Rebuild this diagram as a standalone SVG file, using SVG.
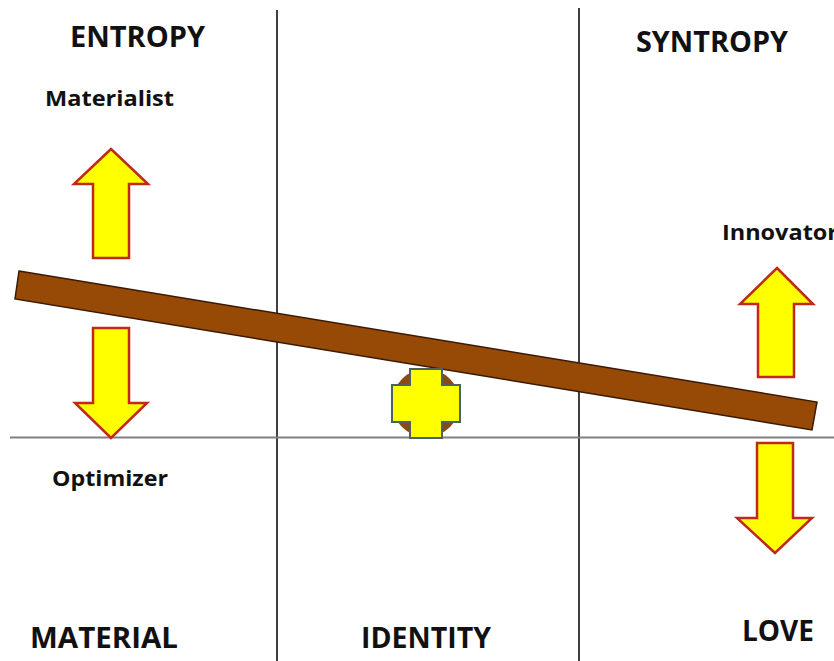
<svg xmlns="http://www.w3.org/2000/svg" width="834" height="661" viewBox="0 0 834 661">
<style>
.t{font-family:"Open Sans","Liberation Sans",sans-serif;font-weight:bold;fill:#111}
.h{font-size:29px}
.s{font-size:22px}
.arrow{fill:#ffff00;stroke:#c0281a;stroke-width:2.5;stroke-linejoin:miter}
.vl{stroke:#111;stroke-width:1.6}
</style>
<rect width="834" height="661" fill="#fff"/>
<g id="grid">
<line class="vl" x1="277" y1="10" x2="277" y2="661"/>
<line class="vl" x1="579" y1="8" x2="579" y2="661"/>
<line x1="10" y1="437.5" x2="834" y2="437.5" stroke="#808080" stroke-width="2"/>
</g>
<g id="beam">
<polygon points="19,271 817,402 812,430 15,299" fill="#974a06" stroke="#3a1a05" stroke-width="1.5"/>
</g>
<g id="fulcrum">
<circle cx="426" cy="403" r="34" fill="#8a4a14"/>
<path d="M410,369 H442 V385 H460 V422 H442 V438 H410 V422 H392 V385 H410 Z" fill="#ffff00" stroke="#4d6161" stroke-width="2"/>
</g>
<g id="arrow-materialist-up">
<polygon class="arrow" points="111,149 148,184 129,184 129,258 93,258 93,184 74,184"/>
</g>
<g id="arrow-optimizer-down">
<polygon class="arrow" points="93,328 129,328 129,403 147,403 111,438 75,403 93,403"/>
</g>
<g id="arrow-innovator-up">
<polygon class="arrow" points="777,268 813,304 794,304 794,377 758,377 758,304 740,304"/>
</g>
<g id="arrow-love-down">
<polygon class="arrow" points="757,443 793,443 793,518 812,518 775,553 737,518 757,518"/>
</g>
<g id="labels">
<text class="t h" x="70" y="47" textLength="135" lengthAdjust="spacingAndGlyphs">ENTROPY</text>
<text class="t s" x="45" y="106" textLength="129" lengthAdjust="spacingAndGlyphs">Materialist</text>
<text class="t h" x="636" y="52" textLength="152" lengthAdjust="spacingAndGlyphs">SYNTROPY</text>
<text class="t s" x="722" y="240" textLength="116" lengthAdjust="spacingAndGlyphs">Innovator</text>
<text class="t s" x="52" y="486" textLength="116" lengthAdjust="spacingAndGlyphs">Optimizer</text>
<text class="t h" x="30" y="648" textLength="148" lengthAdjust="spacingAndGlyphs">MATERIAL</text>
<text class="t h" x="361" y="648" textLength="130" lengthAdjust="spacingAndGlyphs">IDENTITY</text>
<text class="t h" x="742" y="641" textLength="72" lengthAdjust="spacingAndGlyphs">LOVE</text>
</g>
</svg>
